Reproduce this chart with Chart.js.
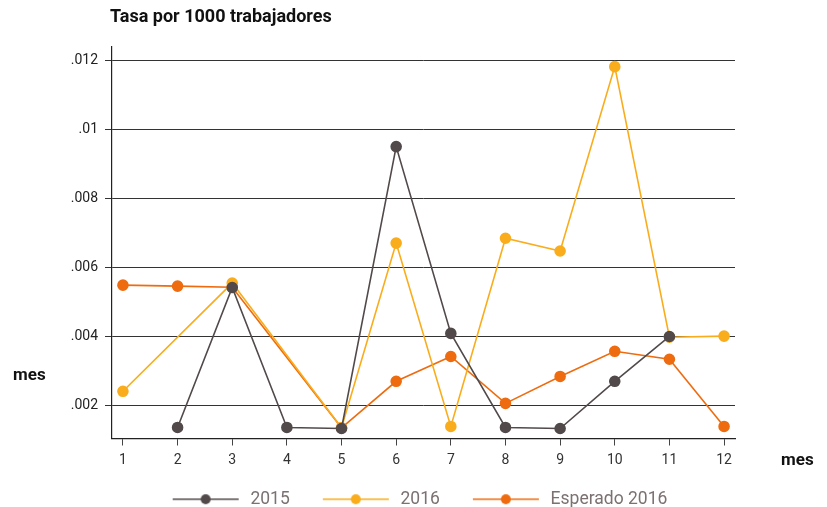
<!DOCTYPE html>
<html>
<head>
<meta charset="utf-8">
<script src="https://cdn.jsdelivr.net/npm/chart.js@4.4.1/dist/chart.umd.min.js"></script>
<style>
  html, body { margin: 0; padding: 0; background: #fff; }
  #wrap { width: 827px; height: 507px; position: relative; }
</style>
</head>
<body>
<div id="wrap"><canvas id="lineChart"></canvas></div>
<script>
// data
const meses = [1, 2, 3, 4, 5, 6, 7, 8, 9, 10, 11, 12];
const tasa2015 = [null, 0.00136, 0.00542, 0.00136, 0.00133, 0.00951, 0.00409, 0.00136, 0.00133, 0.00270, 0.00400, null];
const tasa2016 = [0.00241, null, 0.00555, null, 0.00135, 0.00671, 0.00139, 0.00685, 0.00648, 0.01183, 0.00398, 0.00401];
const esperado2016 = [0.00549, 0.00546, 0.00543, null, 0.00135, 0.00270, 0.00342, 0.00206, 0.00284, 0.00357, 0.00334, 0.00139];
const yTicks = [0.002, 0.004, 0.006, 0.008, 0.010, 0.012];

const colors = ['#524a4a', '#f9ad1d', '#ee6c0f'];
const names = ['2015', '2016', 'Esperado 2016'];

// legend sample: blank lead-in, then line with a dot (canvas is 92 wide)
function legendIcon(color) {
    const c = document.createElement('canvas');
    c.width = 92; c.height = 12;
    const g = c.getContext('2d');
    g.strokeStyle = color; g.lineWidth = 1.6;
    g.beginPath(); g.moveTo(23, 6); g.lineTo(89, 6); g.stroke();
    g.fillStyle = color;
    g.beginPath(); g.arc(56, 6, 5, 0, Math.PI * 2); g.fill();
    return c;
}

function makeSet(i, vals) {
    return {
        label: names[i],
        data: meses.map((m, k) => ({x: m, y: vals[k]})),
        borderColor: colors[i],
        backgroundColor: colors[i],
        borderWidth: 1.6,
        pointRadius: 5,
        pointHoverRadius: 5,
        pointStyle: 'circle',
        spanGaps: true,
        legendIcon: legendIcon(colors[i])
    };
}

const extraText = {
    id: 'extraText',
    afterDraw(chart) {
        const c = chart.ctx;
        c.save();
        c.fillStyle = '#111';
        c.textBaseline = 'middle';
        c.textAlign = 'left';
        c.font = 'bold 18px Roboto';
        c.fillText('Tasa por 1000 trabajadores', 110, 17);
        c.font = 'bold 17px Roboto';
        c.fillText('mes', 13, 376);
        c.fillText('mes', 781, 461);
        c.restore();
    }
};

const ctx = document.getElementById('lineChart').getContext('2d');
const chart = new Chart(ctx, {
    type: 'line',
    data: {
        datasets: [makeSet(0, tasa2015), makeSet(1, tasa2016), makeSet(2, esperado2016)]
    },
    options: {
        responsive: true,
        maintainAspectRatio: false,
        animation: false,
        layout: { padding: { top: 47, right: 0, left: -10, bottom: -11 } },
        plugins: {
            tooltip: { enabled: false },
            title: { display: false },
            legend: {
                position: 'bottom',
                labels: {
                    usePointStyle: true,
                    pointStyleWidth: 92,
                    padding: 10,
                    color: '#7b7171',
                    font: { family: 'Roboto', size: 17.5 },
                    generateLabels(ch) {
                        return ch.data.datasets.map((ds, i) => ({
                            text: ds.label,
                            pointStyle: ds.legendIcon,
                            fillStyle: ds.borderColor,
                            strokeStyle: ds.borderColor,
                            lineWidth: 0,
                            fontColor: '#7b7171',
                            datasetIndex: i
                        }));
                    }
                }
            }
        },
        scales: {
            x: {
                type: 'linear',
                min: 0.8,
                max: 12.2,
                afterBuildTicks(s) { s.ticks = meses.map(v => ({value: v})); },
                afterFit(s) { s.height = 42; },
                grid: { drawOnChartArea: false, drawTicks: true, tickLength: 7, color: '#444' },
                border: { color: '#222', width: 1.2 },
                ticks: {
                    color: '#333',
                    font: { family: 'Roboto', size: 14 },
                    padding: 7,
                    callback: v => String(v)
                }
            },
            y: {
                min: 0.00104,
                max: 0.0124,
                afterBuildTicks(s) { s.ticks = yTicks.map(v => ({value: v})); },
                afterFit(s) { s.width = 122; },
                grid: { color: '#333', lineWidth: 1, tickLength: 7 },
                border: { color: '#222', width: 1.2 },
                ticks: {
                    color: '#222',
                    font: { family: 'Roboto', size: 14 },
                    padding: 7,
                    callback: v => {
                        let t = Number(v).toFixed(3).replace(/0+$/, '');
                        return t.replace(/^0/, '');
                    }
                }
            },
            // empty right-hand axis: only reserves the blank strip right of the plot
            spacer: {
                type: 'linear',
                position: 'right',
                display: true,
                afterFit(s) { s.width = 92; },
                grid: { display: false },
                border: { display: false },
                ticks: { display: false }
            }
        }
    },
    plugins: [extraText]
});
</script>
</body>
</html>
